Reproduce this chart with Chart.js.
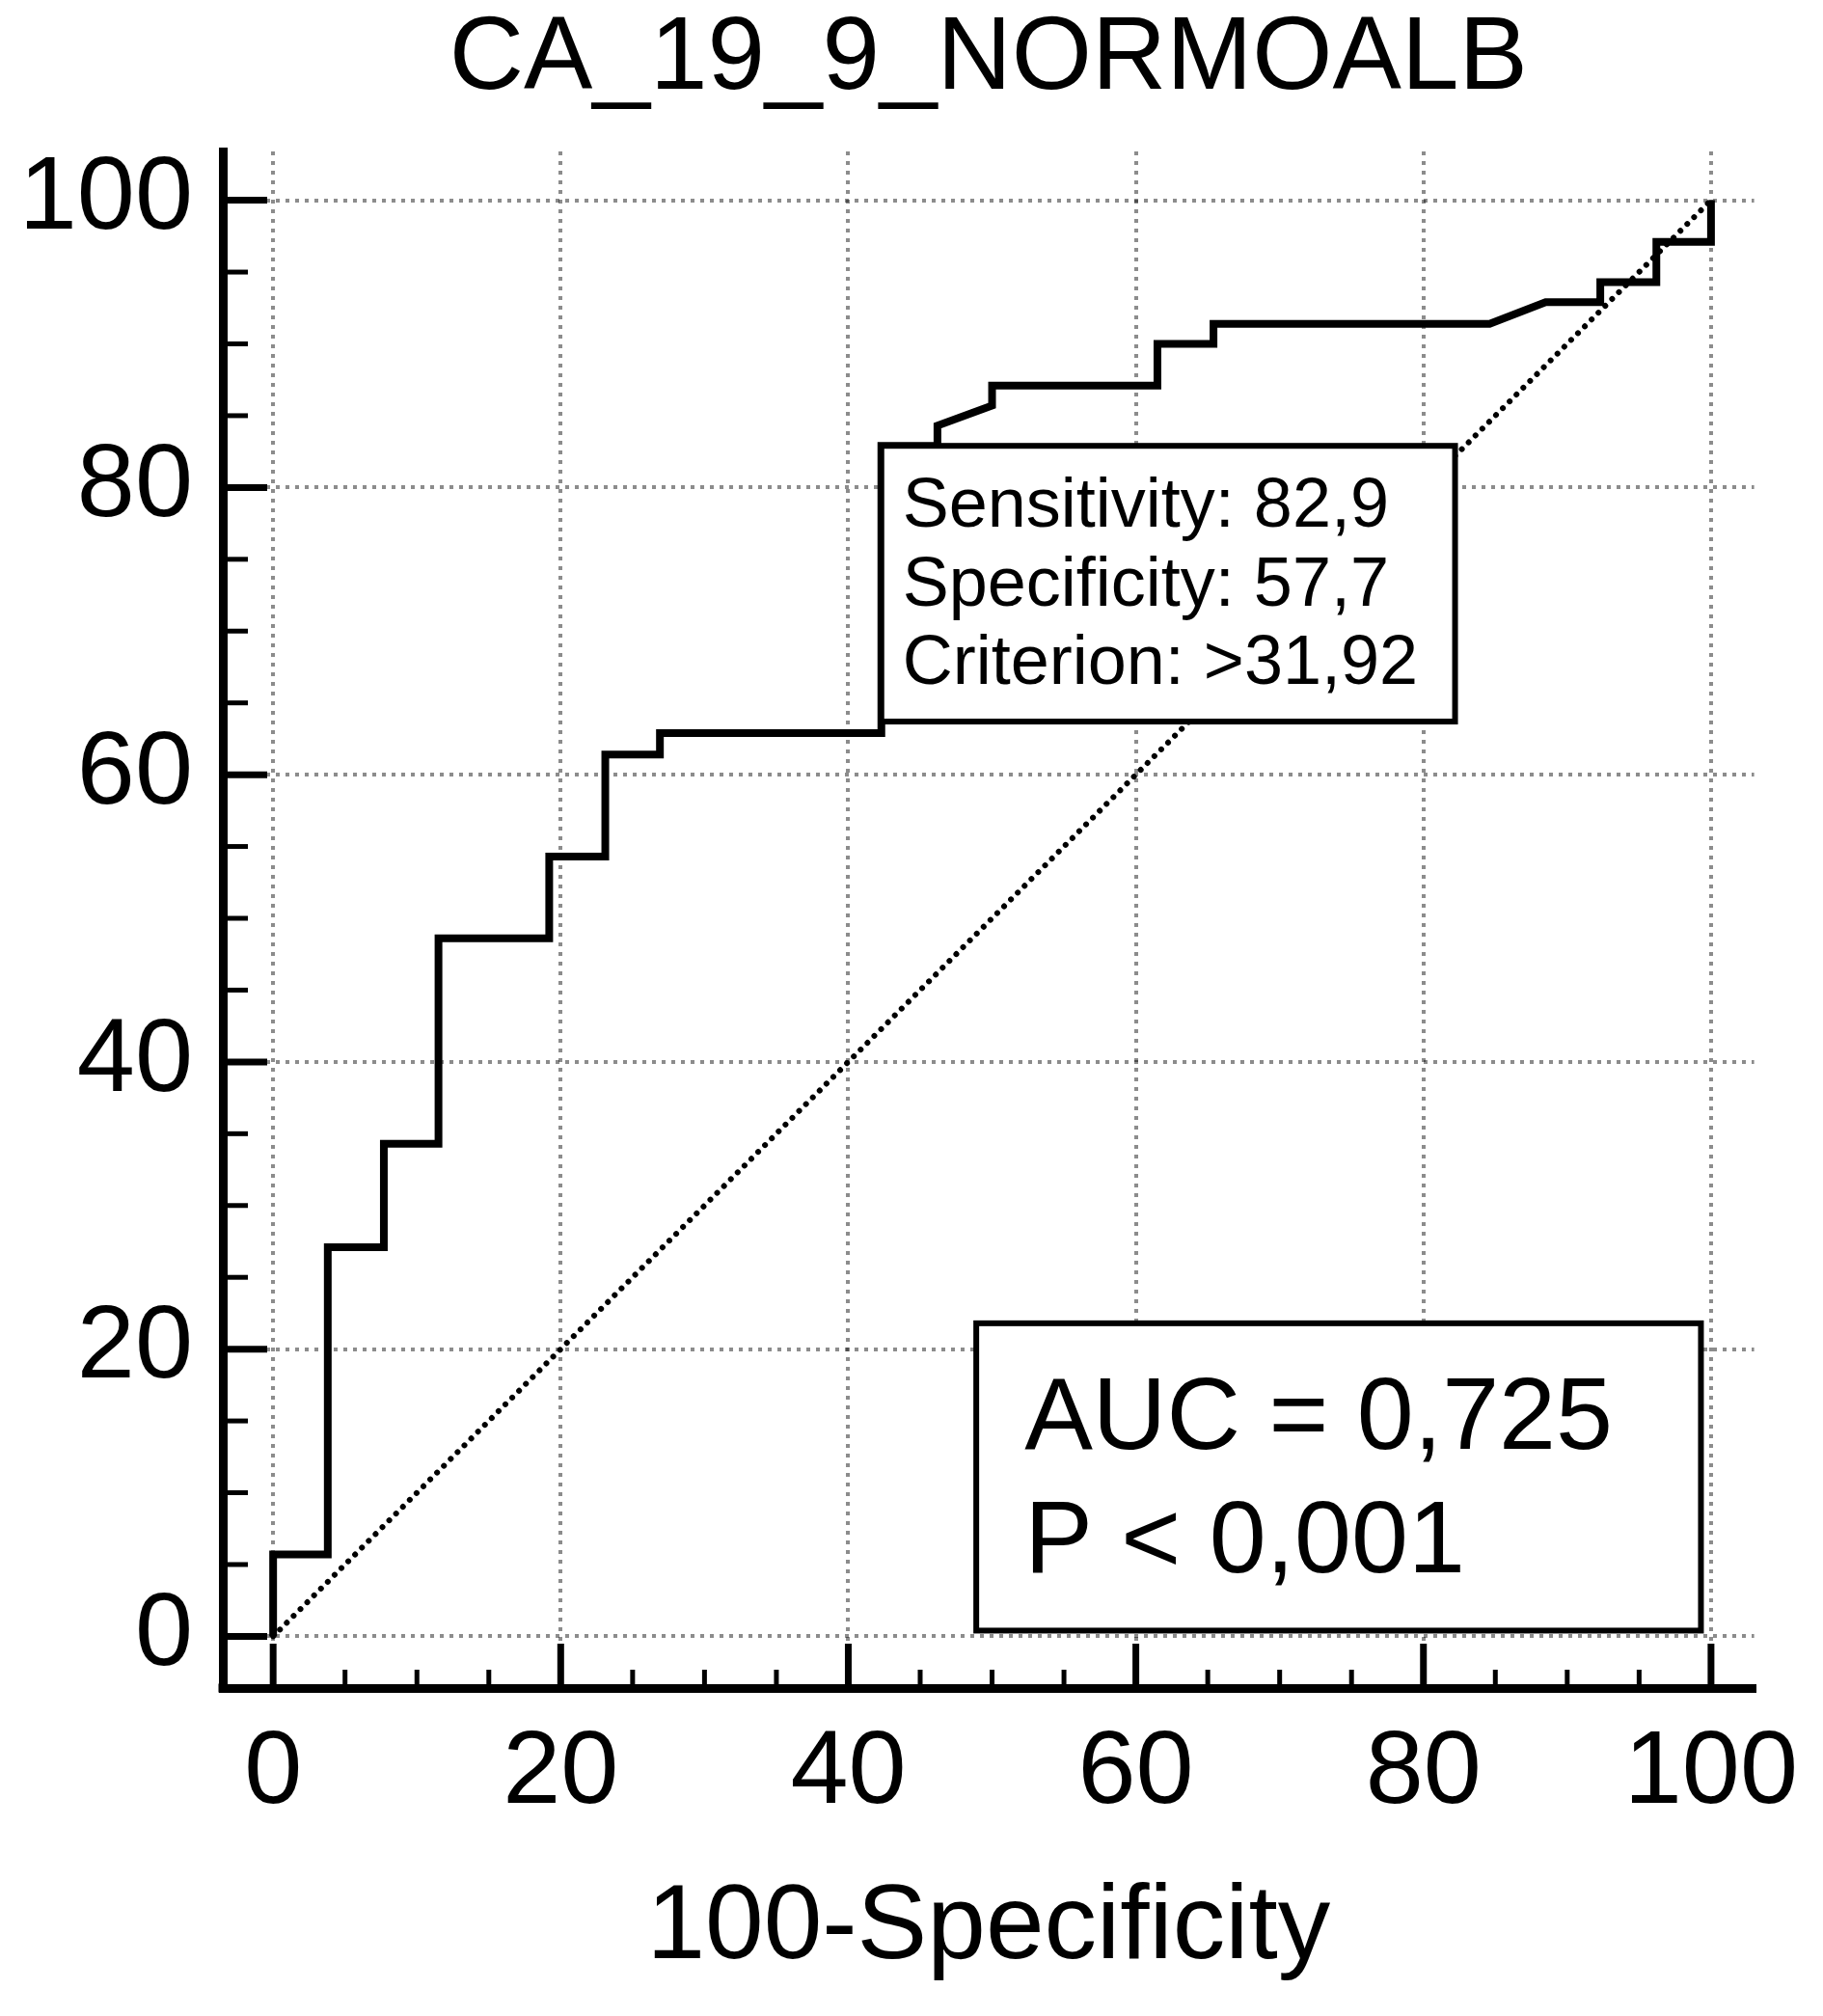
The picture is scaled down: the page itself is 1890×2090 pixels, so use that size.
<!DOCTYPE html>
<html>
<head>
<meta charset="utf-8">
<script src="https://cdn.jsdelivr.net/npm/chart.js@4.4.1/dist/chart.umd.min.js"></script>
<style>
html,body{margin:0;padding:0;background:#fff;}
canvas{display:block;}
</style>
</head>
<body>
<canvas id="c" width="1890" height="2090" style="width:1890px;height:2090px"></canvas>
<script>
// ---------- DATA ----------
const chartTitle = 'CA_19_9_NORMOALB';
const xAxisTitle = '100-Specificity';

// ROC curve (x = 100-Specificity, y = Sensitivity)
const rocX = [0, 0, 3.8, 3.8, 7.7, 7.7, 11.5, 11.5, 19.2, 19.2, 23.1, 23.1, 26.9, 26.9, 42.3, 42.3,
              46.2, 46.2, 50.0, 50.0, 61.5, 61.5, 65.4, 65.4, 84.6, 88.5, 92.3, 92.3, 96.2, 96.2, 100, 100];
const rocY = [0, 5.7, 5.7, 27.1, 27.1, 34.3, 34.3, 48.6, 48.6, 54.3, 54.3, 61.4, 61.4, 62.9, 62.9, 82.9,
              82.9, 84.3, 85.7, 87.1, 87.1, 90.0, 90.0, 91.4, 91.4, 92.9, 92.9, 94.3, 94.3, 97.1, 97.1, 100];

// reference diagonal
const diagX = [0, 100];
const diagY = [0, 100];

// ticks
const majorTicks = [0, 20, 40, 60, 80, 100];
const tickLabels = ['0', '20', '40', '60', '80', '100'];
const minorTicks = [5, 10, 15, 25, 30, 35, 45, 50, 55, 65, 70, 75, 85, 90, 95];

// statistics
const sensitivity = 82.9;
const specificity = 57.7;
const criterion = '>31,92';
const aucValue = 0.725;
const pText = '< 0,001';

// ---------- STYLE / LAYOUT ----------
const FONT = '"Liberation Sans", Arial, Helvetica, sans-serif';
const fmt = (v, d) => v.toFixed(d).replace('.', ',');

const sensBox = { right: 82.2, bottom: 63.7, padX: 22, firstBaseline: 84, lineGap: 81.5, fontSize: 72 };
const aucBox = { left: 48.9, top: 21.8, right: 99.3, bottom: 0.4, padX: 50, firstBaseline: 130, lineGap: 128, fontSize: 106 };

const pts = (xs, ys) => xs.map((x, i) => ({ x: x, y: ys[i] }));

const gridStyle = { color: 'rgba(0,0,0,0.45)', lineWidth: 4, drawTicks: false };
const borderStyle = { display: true, color: '#000', width: 9, dash: [4, 6] };
const tickFont = { family: FONT, size: 108, lineHeight: 1.2 };

const overlay = {
  id: 'overlay',
  afterDatasetsDraw(chart) {
    const { ctx, chartArea: a, scales: { x, y } } = chart;
    ctx.save();
    ctx.strokeStyle = '#000';
    ctx.lineCap = 'butt';
    const seg = (x1, y1, x2, y2, w) => {
      ctx.lineWidth = w; ctx.beginPath(); ctx.moveTo(x1, y1); ctx.lineTo(x2, y2); ctx.stroke();
    };
    majorTicks.forEach(v => {
      const py = y.getPixelForValue(v); seg(a.left, py, a.left + 46, py, 7);
      const px = x.getPixelForValue(v); seg(px, a.bottom, px, a.bottom - 46, 7);
    });
    minorTicks.forEach(v => {
      const py = y.getPixelForValue(v); seg(a.left, py, a.left + 26, py, 5);
      const px = x.getPixelForValue(v); seg(px, a.bottom, px, a.bottom - 19, 5);
    });
    ctx.fillStyle = '#000';
    ctx.fillRect(a.left - 4.5, a.bottom - 4.5, 9, 9);

    const drawBox = (l, t, r, b, cfg, lines) => {
      const L = x.getPixelForValue(l), R = x.getPixelForValue(r);
      const T = y.getPixelForValue(t), B = y.getPixelForValue(b);
      ctx.fillStyle = '#fff';
      ctx.fillRect(L, T, R - L, B - T);
      ctx.lineWidth = 6;
      ctx.strokeStyle = '#000';
      ctx.strokeRect(L, T, R - L, B - T);
      ctx.fillStyle = '#000';
      ctx.font = cfg.fontSize + 'px ' + FONT;
      ctx.textAlign = 'left';
      ctx.textBaseline = 'alphabetic';
      lines.forEach((s, i) => ctx.fillText(s, L + cfg.padX, T + cfg.firstBaseline + i * cfg.lineGap));
    };
    drawBox(100 - specificity, sensitivity, sensBox.right, sensBox.bottom, sensBox, [
      'Sensitivity: ' + fmt(sensitivity, 1),
      'Specificity: ' + fmt(specificity, 1),
      'Criterion: ' + criterion
    ]);
    drawBox(aucBox.left, aucBox.top, aucBox.right, aucBox.bottom, aucBox, [
      'AUC = ' + fmt(aucValue, 3),
      'P ' + pText
    ]);
    ctx.restore();
  }
};

new Chart(document.getElementById('c'), {
  type: 'line',
  data: {
    datasets: [
      {
        data: pts(rocX, rocY),
        borderColor: '#000', borderWidth: 8, pointRadius: 0, fill: false, tension: 0,
        borderJoinStyle: 'miter', borderCapStyle: 'butt', order: 1
      },
      {
        data: pts(diagX, diagY),
        borderColor: '#000', borderWidth: 6, pointRadius: 0, fill: false, tension: 0,
        borderDash: [0.01, 10], borderCapStyle: 'round', order: 2
      }
    ]
  },
  options: {
    responsive: false,
    animation: false,
    devicePixelRatio: 1,
    layout: { padding: { left: 0, right: 68, top: 0, bottom: 0 }, autoPadding: false },
    plugins: {
      legend: { display: false },
      tooltip: { enabled: false },
      title: {
        display: true, text: chartTitle, fullSize: false, color: '#000',
        font: { family: FONT, size: 107, weight: 'normal', lineHeight: 1 },
        padding: { top: 9, bottom: 41 }
      }
    },
    scales: {
      x: {
        type: 'linear', min: -3.5, max: 103,
        afterBuildTicks: s => { s.ticks = majorTicks.map(v => ({ value: v })); },
        afterFit: s => { s.height = 340; },
        grid: gridStyle, border: borderStyle,
        ticks: { color: '#000', font: tickFont, padding: 24, maxRotation: 0, autoSkip: false,
                 callback: (v, i) => tickLabels[i] },
        title: { display: true, text: xAxisTitle, color: '#000',
                 font: { family: FONT, size: 109, lineHeight: 1.2 }, padding: { top: 0, bottom: 25 } }
      },
      y: {
        type: 'linear', min: -3.6, max: 103.4,
        afterBuildTicks: s => { s.ticks = majorTicks.map(v => ({ value: v })); },
        afterFit: s => { s.width = 231; },
        grid: gridStyle, border: borderStyle,
        ticks: { color: '#000', font: tickFont, padding: 31, autoSkip: false,
                 callback: (v, i) => tickLabels[i] }
      }
    }
  },
  plugins: [overlay]
});
</script>
</body>
</html>
